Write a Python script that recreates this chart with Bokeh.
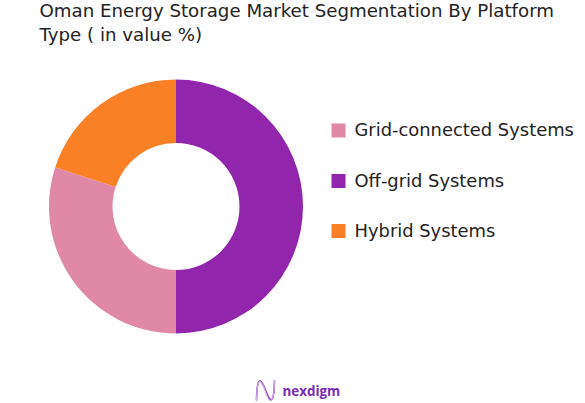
import numpy as np
from bokeh.plotting import figure
from bokeh.models import Range1d, Label
from bokeh.embed import file_html
from bokeh.resources import INLINE

categories = ["Grid-connected Systems", "Off-grid Systems", "Hybrid Systems"]
values = [30, 50, 20]
colors = ["#DF89A6", "#9125AC", "#F98025"]
title_lines = ["Oman Energy Storage Market Segmentation By Platform", "Type ( in value %)"]
logo_text = "nexdigm"

W, H = 585, 403
FONT = "DejaVu Sans"


def Y(py):
    return H - py


p = figure(width=W, height=H, output_backend="svg", toolbar_location=None,
           x_range=Range1d(0, W), y_range=Range1d(0, H), min_border=0)
p.axis.visible = False
p.grid.visible = False
p.outline_line_color = None
p.background_fill_color = "white"
p.border_fill_color = "white"

# Slices run clockwise from 12 o'clock: Off-grid, Grid-connected, Hybrid
order = [1, 0, 2]
total = sum(values)
start = np.pi / 2
for i in order:
    sweep = 2 * np.pi * values[i] / total
    p.annular_wedge(x=[175.5], y=[Y(206)], inner_radius=63.5, outer_radius=127,
                    start_angle=[start - sweep], end_angle=[start],
                    fill_color=colors[i], line_color=None)
    start -= sweep

# Legend
for c, col, py in zip(categories, colors, [130, 180.5, 230.5]):
    p.quad(left=[331], right=[345], top=[Y(py - 7)], bottom=[Y(py + 7)],
           fill_color=col, line_color=None)
    p.add_layout(Label(x=354, y=Y(py - 1), text=c, text_font=FONT, text_font_size="17.9px",
                       text_color="#222222", text_baseline="middle", text_align="left"))

# Title
for line, py in zip(title_lines, [10, 34]):
    p.add_layout(Label(x=39, y=Y(py), text=line, text_font=FONT, text_font_size="18.2px",
                       text_color="#222222", text_baseline="middle", text_align="left"))

# Logo
p.add_layout(Label(x=282, y=Y(390), text=logo_text, text_font="Open Sans", text_font_style="bold",
                   text_font_size="13.4px", text_color="#7A2BB8", text_baseline="middle",
                   text_align="left"))
for col, lw, dy in [("#C9A6E8", 1.2, -1.5), ("#8A3FC7", 1.6, 0), ("#D9B8F0", 1.0, 1.5)]:
    p.bezier(x0=[256], y0=[Y(400)], x1=[265], y1=[Y(390 + dy)],
             cx0=[256.5], cy0=[Y(376 + dy)], cx1=[260], cy1=[Y(376 - dy)],
             line_color=col, line_width=lw)
    p.bezier(x0=[265], y0=[Y(390 + dy)], x1=[274], y1=[Y(380)],
             cx0=[270], cy0=[Y(404 + dy)], cx1=[273.5], cy1=[Y(404 - dy)],
             line_color=col, line_width=lw)

open("out.html", "w").write(file_html(p, INLINE))
